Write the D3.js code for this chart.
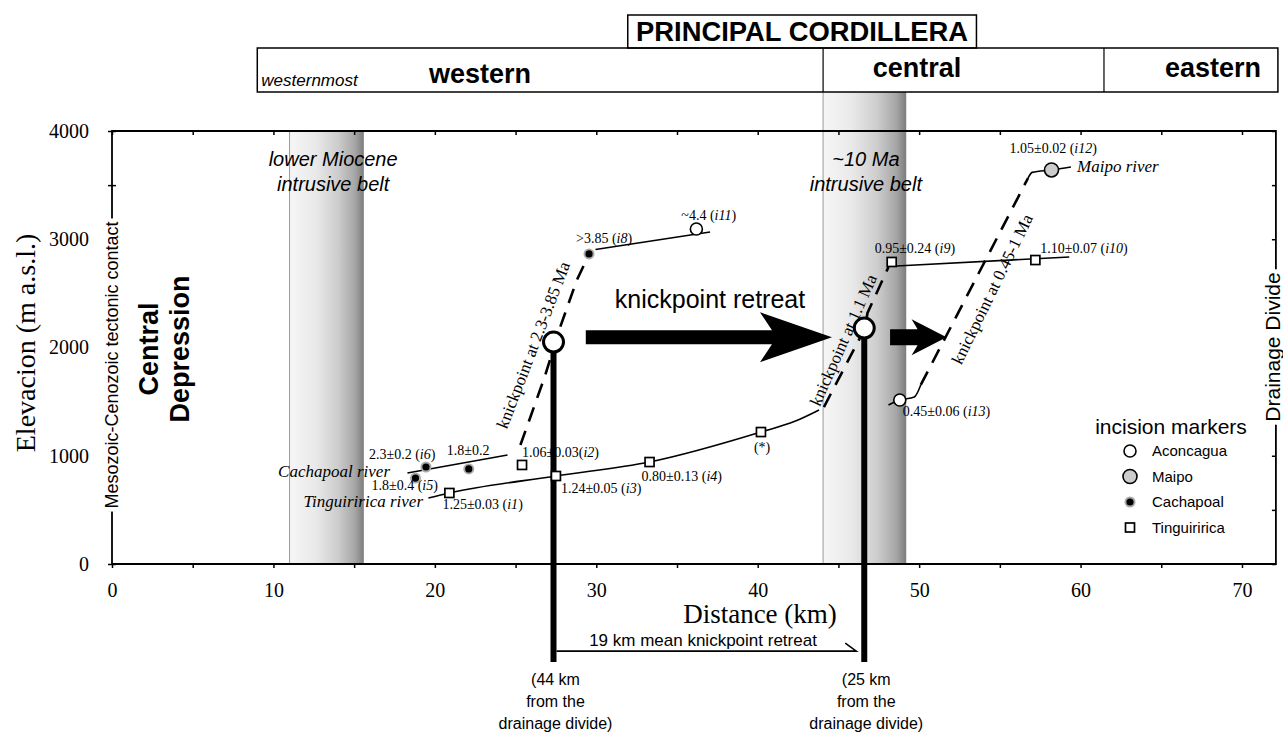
<!DOCTYPE html>
<html>
<head>
<meta charset="utf-8">
<script src="https://cdnjs.cloudflare.com/ajax/libs/d3/7.8.5/d3.min.js"></script>
<style>
  body { margin: 0; background: #fff; }
  svg { display: block; }
  .serif { font-family: "Liberation Serif", "Times New Roman", serif; }
  .sans { font-family: "Liberation Sans", Arial, sans-serif; }
</style>
</head>
<body>
<svg id="chart" width="1283" height="732"></svg>
<script>
// ---- data ----
const xTickValues = [0, 5, 10, 15, 20, 25, 30, 35, 40, 45, 50, 55, 60, 65, 70];
const xLabelValues = [0, 10, 20, 30, 40, 50, 60, 70];
const yTickValues = [0, 500, 1000, 1500, 2000, 2500, 3000, 3500, 4000];
const yLabelValues = [0, 1000, 2000, 3000, 4000];

// incision markers (km from west end, elevation m, age Ma, sample id)
const aconcagua = [
  {key: "i11", km: 36.2, elev: 3095, age: "~4.4", id: "i11"},
  {key: "i13", km: 48.8, elev: 1515, age: "0.45±0.06", id: "i13"}
];
const maipo = [
  {key: "i12", km: 58.2, elev: 3640, age: "1.05±0.02", id: "i12"}
];
const cachapoal = [
  {key: "i5", km: 18.8, elev: 794, age: "1.8±0.4", id: "i5"},
  {key: "i6", km: 19.45, elev: 896, age: "2.3±0.2", id: "i6"},
  {key: "c3", km: 22.1, elev: 878, age: "1.8±0.2", id: ""},
  {key: "i8", km: 29.55, elev: 2864, age: ">3.85", id: "i8"}
];
const tinguiririca = [
  {key: "i1", km: 20.9, elev: 656, age: "1.25±0.03", id: "i1"},
  {key: "i2", km: 25.4, elev: 915, age: "1.06±0.03", id: "i2"},
  {key: "i3", km: 27.5, elev: 813, age: "1.24±0.05", id: "i3"},
  {key: "i4", km: 33.3, elev: 942, age: "0.80±0.13", id: "i4"},
  {key: "st", km: 40.2, elev: 1219, age: "(*)", id: ""},
  {key: "i9", km: 48.3, elev: 2790, age: "0.95±0.24", id: "i9"},
  {key: "i10", km: 57.2, elev: 2808, age: "1.10±0.07", id: "i10"}
];

// river profiles [km, elevation]
const cachapoalLower = [[18.3, 841], [24.5, 1007]];
const cachapoalUpper = [[29.95, 2905], [37.05, 3067]];
const tinguiriricaLower = [[19.6, 610], [20.9, 656], [27.5, 813], [33.3, 942], [40.2, 1219], [42.3, 1318], [43.8, 1423]];
const tinguiriricaUpper = [[48.6, 2753], [59.3, 2836]];
const maipoLower = [[48.1, 1469], [48.8, 1515], [49.7, 1543], [50.1, 1654]];
const maipoUpper = [[56.75, 3566], [57.0, 3618], [58.2, 3640], [59.4, 3667]];

// knickpoint traces (dashed)
const knick1 = [[25.3, 1099], [26.8, 1727], [27.7, 2162], [28.8, 2624], [29.45, 2830]];
const knick2 = [[44.1, 1450], [45.2, 1764], [46.65, 2180], [46.8, 2319], [48.1, 2744]];
const knick3 = [[50.1, 1654], [56.75, 3566]];

// mean knickpoint positions
const knickpoints = [
  {km: 27.35, elev: 2050, lines: ["(44 km", "from the", "drainage divide)"]},
  {km: 46.6, elev: 2180, lines: ["(25 km", "from the", "drainage divide)"]}
];
const retreatArrows = [
  {from: 29.35, to: 44.6, elev: 2095},
  {from: 48.2, to: 51.7, elev: 2095}
];
const bands = [
  {from: 11.0, to: 15.6, top: 4000, labelKm: 13.7, label: ["lower Miocene", "intrusive belt"]},
  {from: 44.05, to: 49.2, top: 4360, labelKm: 46.7, label: ["~10 Ma", "intrusive belt"]}
];
const legendItems = ["Aconcagua", "Maipo", "Cachapoal", "Tinguiririca"];

// ---- layout ----
const svg = d3.select("#chart");
const x = d3.scaleLinear().domain([0, 70]).range([112, 1242]);
const y = d3.scaleLinear().domain([0, 4000]).range([564, 131]);
const xMax = 72.1;
const dropElev = -905, retreatLineElev = -805;

const line = d3.line().x(d => x(d[0])).y(d => y(d[1]));

// gradient for intrusive belts
const grad = svg.append("defs").append("linearGradient").attr("id", "belt")
  .attr("x1", 0).attr("x2", 1).attr("y1", 0).attr("y2", 0);
[[0, "#f6f6f6"], [0.35, "#e9e9e9"], [0.65, "#cdcdcd"], [0.88, "#a6a6a6"], [1, "#7c7c7c"]]
  .forEach(s => grad.append("stop").attr("offset", s[0]).attr("stop-color", s[1]));

// bands
bands.forEach(b => {
  svg.append("rect")
    .attr("x", x(b.from)).attr("y", y(b.top))
    .attr("width", x(b.to) - x(b.from)).attr("height", y(0) - y(b.top))
    .attr("fill", "url(#belt)");
  svg.append("line")
    .attr("x1", x(b.from)).attr("x2", x(b.from))
    .attr("y1", y(b.top)).attr("y2", y(0))
    .attr("stroke", "#999").attr("stroke-width", 1);
  b.label.forEach((t, i) => {
    svg.append("text").attr("class", "sans")
      .attr("x", x(b.labelKm)).attr("y", 166 + i * 25)
      .attr("text-anchor", "middle").attr("font-size", 20).attr("font-style", "italic")
      .text(t);
  });
});

// header boxes
const hdr = svg.append("g").attr("class", "sans").attr("font-weight", "bold");
hdr.append("rect").attr("x", x(31.95)).attr("y", 15).attr("width", x(53.55) - x(31.95)).attr("height", 33)
  .attr("fill", "#fff").attr("stroke", "#000").attr("stroke-width", 1.5);
hdr.append("text").attr("x", (x(31.95) + x(53.55)) / 2).attr("y", 41).attr("text-anchor", "middle")
  .attr("font-size", 27).attr("textLength", 332).attr("lengthAdjust", "spacingAndGlyphs")
  .text("PRINCIPAL CORDILLERA");
hdr.append("rect").attr("x", x(9.0)).attr("y", 48).attr("width", x(xMax) + 2 - x(9.0)).attr("height", 44)
  .attr("fill", "none").attr("stroke", "#000").attr("stroke-width", 1.5);
[44.05, 61.45].forEach(k => hdr.append("line").attr("x1", x(k)).attr("x2", x(k)).attr("y1", 48).attr("y2", 92)
  .attr("stroke", "#000").attr("stroke-width", 1.2));
hdr.append("text").attr("x", x(9.25)).attr("y", 86).attr("font-size", 17).attr("font-weight", "normal")
  .attr("font-style", "italic").text("westernmost");
hdr.append("text").attr("x", 480).attr("y", 83).attr("text-anchor", "middle").attr("font-size", 27).text("western");
hdr.append("text").attr("x", 917).attr("y", 77).attr("text-anchor", "middle").attr("font-size", 27).text("central");
hdr.append("text").attr("x", 1213).attr("y", 77).attr("text-anchor", "middle").attr("font-size", 27).text("eastern");

// axes
const axG = svg.append("g").attr("class", "serif");
const axBottom = axG.append("g").attr("transform", `translate(0,${y(0)})`)
  .call(d3.axisBottom(x).tickValues(xTickValues).tickSize(4).tickPadding(15)
    .tickFormat(d => xLabelValues.includes(d) ? d : ""));
const axTop = axG.append("g").attr("transform", `translate(0,${y(4000)})`)
  .call(d3.axisTop(x).tickValues(xTickValues).tickSize(-4).tickFormat(""));
const axLeft = axG.append("g").attr("transform", `translate(${x(0)},0)`)
  .call(d3.axisLeft(y).tickValues(yTickValues).tickSize(-4).tickPadding(23)
    .tickFormat(d => yLabelValues.includes(d) ? d : ""));
const axRight = axG.append("g").attr("transform", `translate(${x(xMax)},0)`)
  .call(d3.axisRight(y).tickValues(yTickValues).tickSize(-4).tickFormat(""));
[axBottom, axTop, axLeft, axRight].forEach(g => {
  g.select(".domain").remove();
  g.selectAll(".tick line").attr("stroke-width", 1.5);
  g.selectAll("text").attr("font-size", 20).attr("font-family", "Liberation Serif, Times New Roman, serif").attr("fill", "#000");
});
axLeft.selectAll(".tick").append("line").attr("x2", -4).attr("stroke", "#000").attr("stroke-width", 1.5);
// frame
axG.append("path")
  .attr("d", `M${x(0)},${y(0)}V${y(4000)}H${x(xMax)}V${y(0)}Z`)
  .attr("fill", "none").attr("stroke", "#000").attr("stroke-width", 1.8);

// rotated text with white gap behind it
function rotLabel(cx, cy, txt, size, opts = {}) {
  const g = svg.append("g").attr("transform", `translate(${cx},${cy}) rotate(-90)`);
  const t = g.append("text").attr("class", opts.cls || "sans").attr("text-anchor", "middle")
    .attr("dy", opts.dy || "0.35em").attr("font-size", size)
    .attr("font-weight", opts.bold ? "bold" : "normal").text(txt);
  if (opts.gap) {
    const bb = t.node().getBBox();
    g.insert("rect", "text").attr("x", bb.x - 3).attr("y", bb.y - 2)
      .attr("width", bb.width + 6).attr("height", bb.height + 4).attr("fill", "#fff");
  }
  return t;
}
rotLabel(x(0), 365, "Mesozoic-Cenozoic tectonic contact", 18, {gap: true});
rotLabel(x(xMax) - 2, 347, "Drainage Divide", 21, {gap: true, dy: "0.3em"});
rotLabel(158, 349, "Central", 27, {bold: true, dy: "0"});
rotLabel(189, 349, "Depression", 27, {bold: true, dy: "0"});
rotLabel(35, 343, "Elevacion (m a.s.l.)", 28, {dy: "0", cls: "serif"});

svg.append("text").attr("class", "serif").attr("x", 760).attr("y", 623)
  .attr("text-anchor", "middle").attr("font-size", 27).text("Distance (km)");

// knickpoint traces
[knick1, knick2, knick3].forEach(k => {
  svg.append("path").attr("d", line(k)).attr("fill", "none")
    .attr("stroke", "#000").attr("stroke-width", 2.6).attr("stroke-dasharray", "15,10");
});

// river profiles
const riverLine = d3.line().x(d => x(d[0])).y(d => y(d[1])).curve(d3.curveMonotoneX);
[cachapoalLower, cachapoalUpper, tinguiriricaLower, tinguiriricaUpper, maipoLower, maipoUpper].forEach(r => {
  svg.append("path").attr("d", riverLine(r)).attr("fill", "none")
    .attr("stroke", "#000").attr("stroke-width", 1.6);
});

// knickpoint retreat arrows
retreatArrows.forEach((a, i) => {
  const x0 = x(a.from), x1 = x(a.to), yc = y(a.elev);
  const sh = i === 0 ? 7 : 8, hh = i === 0 ? 25 : 18, hl = i === 0 ? 72 : 35, sw = i === 0 ? 12 : 6;
  const xb = x1 - hl;
  svg.append("path")
    .attr("d", `M${x0},${yc - sh}H${xb + sw}L${xb},${yc - hh}L${x1},${yc}L${xb},${yc + hh}L${xb + sw},${yc + sh}H${x0}Z`)
    .attr("fill", "#000");
});
svg.append("text").attr("class", "sans").attr("x", 710).attr("y", 308)
  .attr("text-anchor", "middle").attr("font-size", 25).text("knickpoint retreat");

// thick verticals and retreat distance
knickpoints.forEach(k => {
  svg.append("line").attr("x1", x(k.km)).attr("x2", x(k.km))
    .attr("y1", y(k.elev)).attr("y2", y(dropElev))
    .attr("stroke", "#000").attr("stroke-width", 6);
  k.lines.forEach((t, i) => svg.append("text").attr("class", "sans")
    .attr("x", x(k.km) + 2).attr("y", y(dropElev) + 23 + i * 22)
    .attr("text-anchor", "middle").attr("font-size", 16).text(t));
});
const rl = y(retreatLineElev);
svg.append("path")
  .attr("d", `M${x(knickpoints[0].km) + 3},${rl}H${x(knickpoints[1].km) - 8}l-11,-8`)
  .attr("fill", "none").attr("stroke", "#000").attr("stroke-width", 1.6);
svg.append("text").attr("class", "sans").attr("x", 703).attr("y", rl - 5)
  .attr("text-anchor", "middle").attr("font-size", 17).text("19 km mean knickpoint retreat");

// big knickpoint circles
knickpoints.forEach(k => {
  svg.append("circle").attr("cx", x(k.km)).attr("cy", y(k.elev)).attr("r", 10)
    .attr("fill", "#fff").attr("stroke", "#000").attr("stroke-width", 3);
});

// markers
function drawMarker(g, kind, cx, cy) {
  if (kind === "aconcagua") {
    g.append("circle").attr("cx", cx).attr("cy", cy).attr("r", 6).attr("fill", "#fff").attr("stroke", "#000").attr("stroke-width", 1.6);
  } else if (kind === "maipo") {
    g.append("circle").attr("cx", cx).attr("cy", cy).attr("r", 7).attr("fill", "#cccccc").attr("stroke", "#000").attr("stroke-width", 1.6);
  } else if (kind === "cachapoal") {
    g.append("circle").attr("cx", cx).attr("cy", cy).attr("r", 5.5).attr("fill", "#aaa");
    g.append("circle").attr("cx", cx).attr("cy", cy).attr("r", 3.6).attr("fill", "#000");
  } else {
    g.append("rect").attr("x", cx - 4.5).attr("y", cy - 4.5).attr("width", 9).attr("height", 9)
      .attr("fill", "#fff").attr("stroke", "#000").attr("stroke-width", 1.7);
  }
}
const mg = svg.append("g");
[["aconcagua", aconcagua], ["maipo", maipo], ["cachapoal", cachapoal], ["tinguiririca", tinguiririca]]
  .forEach(([kind, arr]) => arr.forEach(d => drawMarker(mg, kind, x(d.km), y(d.elev))));

// age labels (offsets in px from marker)
const labelOffsets = {
  i11: [-15, -9], i13: [3, 16], i12: [-42, -17],
  i5: [-44, 12], i6: [-57, -8], c3: [-22, -14], i8: [-13, -11],
  i1: [-7, 16], i2: [0, -8, "tight"], i3: [5, 17], i4: [-8, 19], st: [-7, 20],
  i9: [-17, -9], i10: [5, -7]
};
const lg = svg.append("g").attr("class", "serif").attr("font-size", 14);
[].concat(aconcagua, maipo, cachapoal, tinguiririca).forEach(d => {
  const o = labelOffsets[d.key];
  const t = lg.append("text").attr("x", x(d.km) + o[0]).attr("y", y(d.elev) + o[1]);
  if (d.id) {
    t.append("tspan").text(d.age + (o[2] === "tight" ? "(" : " ("));
    t.append("tspan").attr("font-style", "italic").text(d.id);
    t.append("tspan").text(")");
  } else {
    t.text(d.age);
  }
});

// river names
const rv = svg.append("g").attr("class", "serif").attr("font-size", 17).attr("font-style", "italic");
rv.append("text").attr("x", 390).attr("y", 477).attr("text-anchor", "end").text("Cachapoal river");
rv.append("text").attr("x", 423).attr("y", 507).attr("text-anchor", "end").text("Tinguiririca river");
rv.append("text").attr("x", 1077).attr("y", 172).text("Maipo river");

// knickpoint age labels along dashed lines
const kl = svg.append("g").attr("class", "serif").attr("font-size", 17);
[[533, 345, -69, "knickpoint at 2.3-3.85 Ma"], [843, 340, -66, "knickpoint at 1.1 Ma"], [992, 289, -64, "knickpoint at 0.45-1 Ma"]]
  .forEach(([cx, cy, ang, txt]) => kl.append("text")
    .attr("transform", `translate(${cx},${cy}) rotate(${ang})`)
    .attr("text-anchor", "middle").attr("dy", "0.35em").text(txt));

// legend
const leg = svg.append("g").attr("class", "sans");
leg.append("text").attr("x", 1171).attr("y", 434).attr("text-anchor", "middle").attr("font-size", 21).text("incision markers");
legendItems.forEach((name, i) => {
  const cy = 451 + i * 25.5;
  drawMarker(leg, name.toLowerCase(), 1130, cy);
  leg.append("text").attr("x", 1152).attr("y", cy + 5).attr("font-size", 15).text(name);
});
</script>
</body>
</html>
